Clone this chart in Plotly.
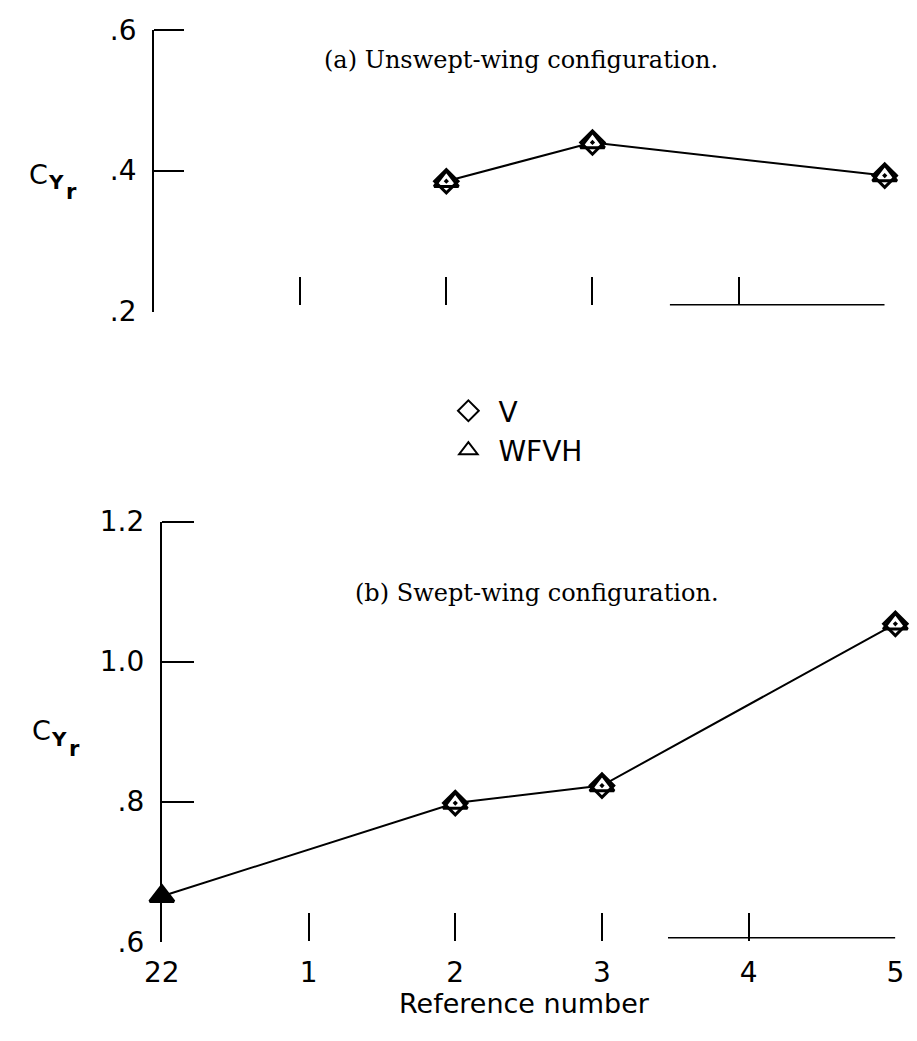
import plotly.graph_objects as go

# page is 917x1041; the html body has an 8px margin, so the figure is drawn
# 8px smaller and all page-pixel positions are shifted by that margin.
PAGE_W, PAGE_H = 917, 1041
OFF = 8
W, H = PAGE_W - OFF, PAGE_H - OFF

# ---- data -------------------------------------------------------------
ref_pos = [0, 1, 2, 3, 4, 5]
ref_labels = ["22", "1", "2", "3", "4", "5"]

# (a) Unswept-wing configuration
a_x = [2, 3, 5]
a_v = [0.385, 0.440, 0.393]
a_wfvh = [0.385, 0.440, 0.393]

# (b) Swept-wing configuration
b_x_v = [2, 3, 5]
b_v = [0.798, 0.823, 1.054]
b_x_w = [0, 2, 3, 5]
b_wfvh = [0.665, 0.798, 0.823, 1.054]

a_yticks = [0.2, 0.4, 0.6]
a_ylabels = [".2", ".4", ".6"]
b_yticks = [0.6, 0.8, 1.0, 1.2]
b_ylabels = [".6", ".8", "1.0", "1.2"]


def px_x(p):
    return (p - OFF) / W


def px_y(p):
    return 1 - (p - OFF) / H


SANS = "DejaVu Sans"
SERIF = "DejaVu Serif"
BLK = "black"

fig = go.Figure()

# top panel
fig.add_trace(go.Scatter(x=a_x, y=a_wfvh, mode="lines", line=dict(color=BLK, width=2),
                         xaxis="x", yaxis="y", showlegend=False, cliponaxis=False))
fig.add_trace(go.Scatter(x=a_x, y=a_wfvh, mode="markers", xaxis="x", yaxis="y", showlegend=False,
                         cliponaxis=False,
                         marker=dict(symbol="triangle-up", size=21, color="white",
                                     line=dict(color=BLK, width=3))))
fig.add_trace(go.Scatter(x=a_x, y=a_v, mode="markers", xaxis="x", yaxis="y", showlegend=False,
                         cliponaxis=False,
                         marker=dict(symbol="diamond-open-dot", size=18, color=BLK,
                                     line=dict(color=BLK, width=3))))

# bottom panel
fig.add_trace(go.Scatter(x=b_x_w, y=b_wfvh, mode="lines", line=dict(color=BLK, width=2),
                         xaxis="x2", yaxis="y2", showlegend=False, cliponaxis=False))
fig.add_trace(go.Scatter(x=b_x_w, y=b_wfvh, mode="markers", xaxis="x2", yaxis="y2", showlegend=False,
                         cliponaxis=False,
                         marker=dict(symbol="triangle-up", size=21,
                                     color=[BLK] + ["white"] * (len(b_x_w) - 1),
                                     line=dict(color=BLK, width=3))))
fig.add_trace(go.Scatter(x=b_x_v, y=b_v, mode="markers", xaxis="x2", yaxis="y2", showlegend=False,
                         cliponaxis=False,
                         marker=dict(symbol="diamond-open-dot", size=18, color=BLK,
                                     line=dict(color=BLK, width=3))))

# legend entries
fig.add_trace(go.Scatter(x=[None], y=[None], mode="markers", name="V", xaxis="x", yaxis="y",
                         marker=dict(symbol="diamond-open", size=16, color=BLK, line=dict(width=2))))
fig.add_trace(go.Scatter(x=[None], y=[None], mode="markers", name="WFVH", xaxis="x", yaxis="y",
                         marker=dict(symbol="triangle-up-open", size=16, color=BLK, line=dict(width=2))))

tickfont = dict(family=SANS, size=28, color=BLK)

fig.update_layout(
    width=W, height=H,
    margin=dict(l=0, r=0, t=0, b=0),
    paper_bgcolor="white", plot_bgcolor="white",
    xaxis=dict(domain=[px_x(140), px_x(893)], range=[0, 5], anchor="free", position=px_y(298),
               tickmode="array", tickvals=ref_pos, ticktext=ref_labels, showticklabels=False,
               ticks="inside", ticklen=28, tickwidth=2, tickcolor=BLK,
               showline=False, showgrid=False, zeroline=False),
    yaxis=dict(domain=[px_y(305), px_y(14)], range=[0.2, 0.6], anchor="x",
               tickmode="array", tickvals=a_yticks, ticktext=a_ylabels, ticks="",
               tickfont=tickfont, ticklabelstandoff=10,
               minor=dict(tickmode="array", tickvals=a_yticks[1:], ticks="inside", ticklen=30,
                          tickwidth=2, tickcolor=BLK, showgrid=False),
               showline=True, linewidth=2, linecolor=BLK, showgrid=False, zeroline=False),
    xaxis2=dict(domain=[px_x(148), px_x(904)], range=[0, 5], anchor="free", position=px_y(955),
                tickmode="array", tickvals=ref_pos, ticktext=ref_labels,
                ticks="inside", ticklen=28, tickwidth=2, tickcolor=BLK, tickfont=tickfont,
                ticklabelstandoff=12,
                showline=False, showgrid=False, zeroline=False),
    yaxis2=dict(domain=[px_y(956), px_y(522)], range=[0.6, 1.2], anchor="x2",
                tickmode="array", tickvals=b_yticks, ticktext=b_ylabels, ticks="",
                tickfont=tickfont, ticklabelstandoff=10,
                minor=dict(tickmode="array", tickvals=b_yticks[1:], ticks="inside", ticklen=32,
                           tickwidth=2, tickcolor=BLK, showgrid=False),
                showline=True, linewidth=2, linecolor=BLK, showgrid=False, zeroline=False),
    legend=dict(x=px_x(433), y=px_y(382), xanchor="left", yanchor="top",
                font=dict(family=SANS, size=28, color=BLK), bgcolor="rgba(0,0,0,0)",
                itemwidth=50, tracegroupgap=0),
    shapes=[
        dict(type="line", xref="x", yref="paper", x0=3.53, x1=5, y0=px_y(298), y1=px_y(298),
             line=dict(color=BLK, width=1.5)),
        dict(type="line", xref="x2", yref="paper", x0=3.45, x1=5, y0=px_y(952), y1=px_y(952),
             line=dict(color=BLK, width=1.5)),
    ],
    annotations=[
        dict(text="(a) Unswept-wing configuration.", xref="paper", yref="paper",
             x=px_x(313), y=px_y(45), xanchor="left", yanchor="middle", showarrow=False,
             font=dict(family=SERIF, size=24, color=BLK)),
        dict(text="(b) Swept-wing configuration.", xref="paper", yref="paper",
             x=px_x(345), y=px_y(596), xanchor="left", yanchor="middle", showarrow=False,
             font=dict(family=SERIF, size=24, color=BLK)),
        # C_Yr (top)
        dict(text="C", xref="paper", yref="paper", x=px_x(10), y=px_y(163),
             xanchor="left", yanchor="middle", showarrow=False, borderpad=0,
             font=dict(family=SANS, size=27, color=BLK)),
        dict(text="<b>Y</b>", xref="paper", yref="paper", x=px_x(30), y=px_y(171),
             xanchor="left", yanchor="middle", showarrow=False, borderpad=0,
             font=dict(family=SANS, size=20, color=BLK)),
        dict(text="<b>r</b>", xref="paper", yref="paper", x=px_x(48), y=px_y(182),
             xanchor="left", yanchor="middle", showarrow=False, borderpad=0,
             font=dict(family=SANS, size=21, color=BLK)),
        # C_Yr (bottom)
        dict(text="C", xref="paper", yref="paper", x=px_x(13), y=px_y(738),
             xanchor="left", yanchor="middle", showarrow=False, borderpad=0,
             font=dict(family=SANS, size=27, color=BLK)),
        dict(text="<b>Y</b>", xref="paper", yref="paper", x=px_x(33), y=px_y(747),
             xanchor="left", yanchor="middle", showarrow=False, borderpad=0,
             font=dict(family=SANS, size=20, color=BLK)),
        dict(text="<b>r</b>", xref="paper", yref="paper", x=px_x(51), y=px_y(757),
             xanchor="left", yanchor="middle", showarrow=False, borderpad=0,
             font=dict(family=SANS, size=21, color=BLK)),
        dict(text="Reference number", xref="paper", yref="paper",
             x=px_x(522), y=px_y(1020), xanchor="center", yanchor="middle", showarrow=False,
             font=dict(family=SANS, size=27, color=BLK)),
    ],
)

fig.write_html("out.html")
